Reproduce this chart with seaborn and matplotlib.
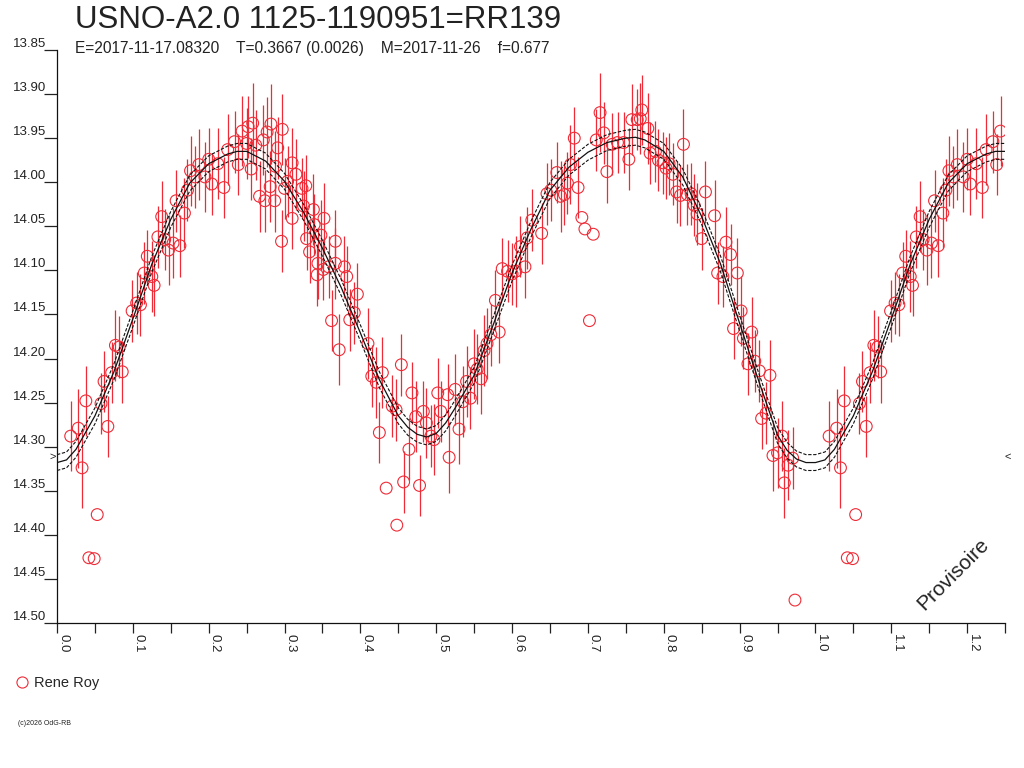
import numpy as np
import pandas as pd
import matplotlib
matplotlib.use("Agg")
import matplotlib.pyplot as plt
from matplotlib.lines import Line2D
import seaborn as sns

# Phase diagram of USNO-A2.0 1125-1190951 (RR139)

sns.set_style("white")
plt.rcParams['font.family'] = ['Liberation Sans', 'DejaVu Sans']

title = "USNO-A2.0 1125-1190951=RR139"
subtitle = "E=2017-11-17.08320    T=0.3667 (0.0026)    M=2017-11-26    f=0.677"
observer = "Rene Roy"

# observations, phase 0..1 (err 0 = no error bar drawn)
phase = [
    0.018, 0.028, 0.033, 0.038, 0.042, 0.049, 0.053, 0.058, 0.062, 0.067,
    0.072, 0.077, 0.082, 0.086, 0.099, 0.105, 0.110, 0.115, 0.119, 0.125,
    0.128, 0.133, 0.138, 0.142, 0.147, 0.153, 0.157, 0.162, 0.168, 0.172,
    0.176, 0.182, 0.187, 0.195, 0.200, 0.204, 0.212, 0.220, 0.225, 0.234,
    0.239, 0.244, 0.250, 0.252, 0.256,
    0.258, 0.262, 0.267, 0.272, 0.274, 0.277, 0.281, 0.282, 0.287, 0.288,
    0.291, 0.296, 0.297, 0.300, 0.304, 0.310, 0.310, 0.315, 0.323, 0.325,
    0.328, 0.329, 0.333, 0.338, 0.339, 0.343, 0.344, 0.348, 0.351, 0.352,
    0.358, 0.362, 0.367, 0.367, 0.372, 0.379, 0.382, 0.386, 0.392, 0.396,
    0.410, 0.415, 0.421, 0.425, 0.429, 0.434, 0.442, 0.447, 0.448, 0.454,
    0.457, 0.464, 0.468, 0.473, 0.478, 0.483, 0.487, 0.493, 0.497, 0.502,
    0.506, 0.515, 0.517,
    0.525, 0.530, 0.535, 0.540, 0.545, 0.550, 0.554, 0.559, 0.563, 0.567,
    0.572, 0.578, 0.583, 0.587, 0.594, 0.600, 0.605, 0.611, 0.617, 0.620,
    0.626, 0.639, 0.646, 0.651, 0.659, 0.664, 0.669, 0.673, 0.677, 0.682,
    0.687, 0.692, 0.696, 0.702, 0.707, 0.711, 0.716, 0.721, 0.725, 0.732,
    0.739, 0.747, 0.754, 0.758, 0.765, 0.771,
    0.769, 0.779, 0.782, 0.789, 0.793, 0.799, 0.803, 0.807, 0.812, 0.817,
    0.822, 0.826, 0.831, 0.836, 0.840, 0.844, 0.850, 0.855, 0.867, 0.871,
    0.878, 0.882, 0.888, 0.892, 0.897, 0.902, 0.905, 0.911, 0.916, 0.920,
    0.926, 0.929, 0.935, 0.940, 0.944, 0.950, 0.956, 0.959, 0.964, 0.970,
    0.973,
]
mag = [
    14.288, 14.279, 14.324, 14.248, 14.426, 14.427, 14.377, 14.251, 14.226, 14.277,
    14.216, 14.185, 14.187, 14.215, 14.146, 14.137, 14.139, 14.103, 14.084, 14.107,
    14.117, 14.062, 14.039, 14.065, 14.077, 14.069, 14.021, 14.072, 14.035, 14.009,
    13.987, 13.994, 13.980, 13.994, 13.974, 14.002, 13.979, 14.006, 13.963, 13.954,
    13.980, 13.942, 13.956, 13.937, 13.985,
    13.933, 13.958, 14.016, 13.952, 14.021, 13.943, 14.005, 13.934, 14.021, 13.982,
    13.961, 14.067, 13.940, 14.007, 13.999, 13.978, 14.041, 13.991, 14.007, 14.027,
    14.004, 14.064, 14.079, 14.031, 14.048, 14.105, 14.092, 14.060, 14.099, 14.041,
    14.096, 14.157, 14.067, 14.092, 14.190, 14.096, 14.107, 14.156, 14.148, 14.127,
    14.183, 14.220, 14.227, 14.284, 14.216, 14.347, 14.254, 14.258, 14.389, 14.207,
    14.340, 14.303, 14.239, 14.266, 14.344, 14.260, 14.273, 14.288, 14.292, 14.239,
    14.260, 14.241, 14.312,
    14.235, 14.280, 14.249, 14.226, 14.245, 14.206, 14.212, 14.223, 14.191, 14.183,
    14.173, 14.134, 14.170, 14.098, 14.101, 14.104, 14.101, 14.073, 14.096, 14.063,
    14.043, 14.058, 14.013, 14.009, 13.989, 14.016, 14.014, 14.001, 13.980, 13.950,
    14.006, 14.040, 14.053, 14.157, 14.059, 13.952, 13.921, 13.944, 13.988, 13.957,
    13.955, 13.955, 13.974, 13.929, 13.929, 13.918,
    13.928, 13.939, 13.967, 13.965, 13.975, 13.978, 13.984, 13.979, 13.991, 14.011,
    14.015, 13.957, 14.014, 14.013, 14.026, 14.036, 14.064, 14.011, 14.038, 14.103,
    14.107, 14.068, 14.082, 14.166, 14.103, 14.146, 14.177, 14.206, 14.170, 14.203,
    14.214, 14.268, 14.262, 14.219, 14.310, 14.307, 14.288, 14.341, 14.321, 14.313,
    14.474,
]
mag_err = [
    .040, .045, .045, .040, 0, 0, 0, .035, .035, .035,
    .035, .040, .035, .035, .035, .035, .035, .035, .030, .040,
    .035, .035, .040, .035, .040, .040, .035, .035, .040, .035,
    .040, .035, .040, .040, .035, .035, .040, .035, .040, .035,
    .035, .040, .040, .035, .035,
    .045, .040, .040, .040, .035, .040, .040, .045, .035, .040,
    .035, .035, .040, .035, .040, .040, .035, .040, .035, .040,
    .035, .035, .035, .040, .035, .035, .040, .040, .035, .040,
    .035, .035, .035, .040, .040, .035, .035, .035, .035, .035,
    .040, .035, .040, .035, .040, 0, .035, .035, 0, .035,
    .035, .035, .035, .040, .035, .035, .040, .035, .040, .040,
    .035, .035, .040,
    .040, .040, .040, .040, .035, .040, .040, .040, .040, .040,
    .035, .035, .035, .035, .035, .035, .040, .035, .035, .035,
    .035, .035, .035, .035, .035, .040, .035, .035, .045, .035,
    .035, 0, 0, 0, 0, .035, .045, .035, .035, .035,
    .035, .035, .035, .040, .035, .040,
    .040, .040, .035, .035, .035, .035, .035, .035, .035, .035,
    .035, .040, .035, .035, .035, .035, .035, .035, .040, .035,
    .035, .040, .035, .035, .040, .040, .035, .035, .040, .035,
    .035, .035, .035, .040, .040, .040, .040, .040, .040, .035,
    0,
]

# fitted light curve, with its envelope
curve_phase = [0.000, 0.0125, 0.025, 0.050, 0.075, 0.100, 0.125, 0.150, 0.175, 0.200,
               0.225, 0.2375, 0.250, 0.275, 0.300, 0.325, 0.350, 0.375, 0.400, 0.425,
               0.450, 0.4625, 0.475, 0.4875, 0.500, 0.5125, 0.525, 0.550, 0.575, 0.600,
               0.625, 0.650, 0.675, 0.700, 0.725, 0.750, 0.7625, 0.775, 0.800, 0.825,
               0.850, 0.875, 0.900, 0.925, 0.950, 0.9625, 0.975, 0.9875, 1.000]
curve_mag = [14.318, 14.315, 14.303, 14.265, 14.215, 14.155, 14.093, 14.042, 14.001, 13.979,
             13.968, 13.965, 13.965, 13.976, 13.999, 14.034, 14.075, 14.120, 14.171, 14.224,
             14.265, 14.278, 14.286, 14.289, 14.285, 14.273, 14.256, 14.219, 14.162, 14.103,
             14.053, 14.009, 13.983, 13.966, 13.955, 13.950, 13.949, 13.952, 13.965, 13.994,
             14.039, 14.093, 14.160, 14.225, 14.287, 14.304, 14.314, 14.318, 14.318]
curve_err = 0.009

x_max = 1.247
y_ticks = [13.85, 13.90, 13.95, 14.00, 14.05, 14.10, 14.15, 14.20, 14.25,
           14.30, 14.35, 14.40, 14.45, 14.50]
x_ticks = [0.0, 0.1, 0.2, 0.3, 0.4, 0.5, 0.6, 0.7, 0.8, 0.9, 1.0, 1.1, 1.2]
mean_mark = 14.312

assert len(phase) == len(mag) == len(mag_err)
assert len(curve_phase) == len(curve_mag)

obs = pd.DataFrame({'phase': phase, 'mag': mag, 'err': mag_err})
# repeat the start of the cycle after phase 1
wrap = obs[obs['phase'] + 1 <= x_max].copy()
wrap['phase'] += 1
obs = pd.concat([obs, wrap], ignore_index=True)

fit = pd.DataFrame({'phase': curve_phase, 'mag': curve_mag})
fit_wrap = fit[(fit['phase'] > 0) & (fit['phase'] + 1 <= x_max + 0.01)].copy()
fit_wrap['phase'] += 1
fit = pd.concat([fit, fit_wrap], ignore_index=True)

red = '#ee2b36'

fig = plt.figure(figsize=(10.24, 7.68), dpi=100)
ax = fig.add_axes([0.0557, 0.1888, 0.9258, 0.7461])

bars = obs[obs['err'] > 0]
ax.errorbar(bars['phase'], bars['mag'], yerr=bars['err'], fmt='none',
            ecolor=red, elinewidth=0.9, capsize=0, zorder=2)
sns.scatterplot(data=obs, x='phase', y='mag', ax=ax, marker='o', s=72,
                facecolor='none', edgecolor=red, linewidth=0.8, zorder=3)

sns.lineplot(data=fit, x='phase', y='mag', ax=ax, color='#111111',
             linewidth=0.9, sort=False, zorder=4)
ax.plot(fit['phase'], fit['mag'] - curve_err, color='#111111', lw=0.8,
        dashes=(3, 1.5), zorder=4)
ax.plot(fit['phase'], fit['mag'] + curve_err, color='#111111', lw=0.8,
        dashes=(3, 1.5), zorder=4)

ax.set_xlim(0, x_max)
ax.set_ylim(14.50, 13.85)
ax.set_xlabel("")
ax.set_ylabel("")

for s in ['top', 'right']:
    ax.spines[s].set_visible(False)
for s in ['left', 'bottom']:
    ax.spines[s].set_color('#111111')
    ax.spines[s].set_linewidth(0.9)

ax.set_yticks(y_ticks)
ax.set_yticklabels([f"{v:.2f}" for v in y_ticks])
ax.tick_params(axis='y', left=True, direction='out', length=9.5, width=0.9,
               pad=-2, labelsize=9.5, colors='#222222')
for lab in ax.get_yticklabels():
    lab.set_va('bottom')

ax.set_xticks(x_ticks)
ax.set_xticks([t + 0.05 for t in x_ticks], minor=True)
ax.set_xticklabels([f"{v:.1f}" for v in x_ticks])
ax.tick_params(axis='x', which='both', bottom=True, direction='out', length=7,
               width=0.9, labelsize=9.5, colors='#222222', pad=1)
for lab in ax.get_xticklabels():
    lab.set_rotation(-90)
    lab.set_ha('left')
    lab.set_va('top')

ax.text(-0.002, mean_mark, ">", ha='right', va='center', fontsize=8,
        color='#222222', clip_on=False)
ax.text(x_max + 0.002, mean_mark, "<", ha='left', va='center', fontsize=8,
        color='#222222', clip_on=False)

ax.text(1.182, 14.445, "Provisoire", rotation=45, ha='center', va='center',
        fontsize=15, color='#222222')

fig.text(0.073, 0.963, title, fontsize=22.5, color='#222222', va='baseline')
fig.text(0.073, 0.931, subtitle, fontsize=11.2, color='#222222', va='baseline')

handle = Line2D([], [], marker='o', linestyle='none', markerfacecolor='none',
                markeredgecolor=red, markersize=8, markeredgewidth=0.8)
fig.legend(handles=[handle], labels=[observer], loc='center left',
           bbox_to_anchor=(0.002, 0.111), frameon=False, fontsize=10.5,
           handletextpad=0.3, handlelength=1.0)
fig.text(0.0176, 0.056, "(c)2026 OdG-RB", fontsize=5, color='#222222')

fig.savefig("out.png", dpi=100)
